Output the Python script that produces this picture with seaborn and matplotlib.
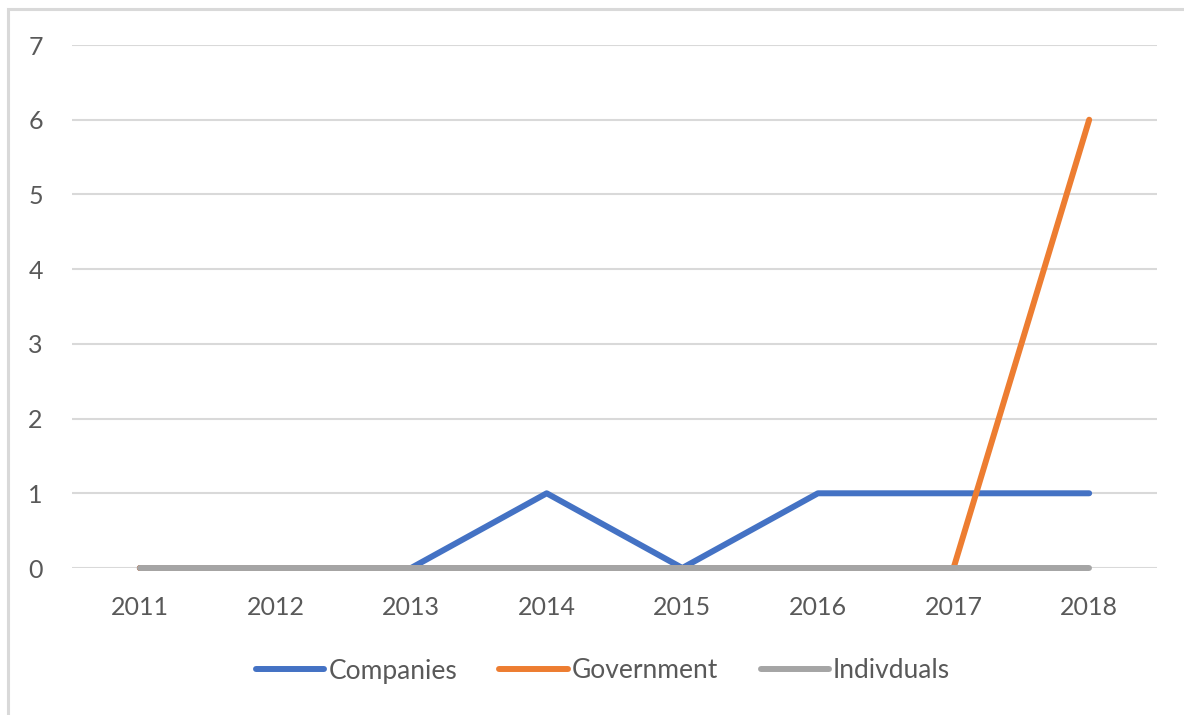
import matplotlib
matplotlib.use("Agg")
import matplotlib.pyplot as plt
import seaborn as sns
import pandas as pd
from matplotlib.patches import Rectangle

years = [2011, 2012, 2013, 2014, 2015, 2016, 2017, 2018]
companies = [0, 0, 0, 1, 0, 1, 1, 1]
government = [0, 0, 0, 0, 0, 0, 0, 6]
individuals = [0, 0, 0, 0, 0, 0, 0, 0]
series_names = ["Companies", "Government", "Indivduals"]
colors = ["#4472C4", "#ED7D31", "#A5A5A5"]

df = pd.concat([
    pd.DataFrame({"Year": years, "Value": vals, "Series": name})
    for name, vals in zip(series_names, [companies, government, individuals])
], ignore_index=True)

sns.set_theme(style="white")
plt.rcParams["font.family"] = ["Lato", "DejaVu Sans"]

fig = plt.figure(figsize=(11.84, 7.15), dpi=100)
ax = fig.add_axes([72 / 1184, 1 - 568 / 715, (1157 - 72) / 1184, (568 - 45) / 715])

sns.lineplot(data=df, x="Year", y="Value", hue="Series", palette=colors,
             hue_order=series_names, linewidth=4.3, ax=ax, legend=True,
             sort=False, zorder=3)
for ln in ax.lines:
    ln.set_clip_on(False)
    ln.set_solid_capstyle("round")

ax.set_xlim(2010.5, 2018.5)
ax.set_ylim(0, 7)
ax.set_xticks(years)
ax.set_yticks(range(0, 8))
ax.set_xlabel("")
ax.set_ylabel("")
ax.grid(axis="y", color="#D9D9D9", linewidth=1.5)
ax.grid(axis="x", visible=False)
ax.set_axisbelow(True)
for s in ax.spines.values():
    s.set_visible(False)
ax.tick_params(axis="both", length=0, labelsize=18, labelcolor="#595959")
ax.tick_params(axis="x", pad=20)
ax.tick_params(axis="y", pad=21)

handles, labels = ax.get_legend_handles_labels()
ax.get_legend().remove()
for h in handles:
    h.set_linewidth(4.3)
    h.set_solid_capstyle("round")
fig.legend(handles, labels, loc="center", bbox_to_anchor=(603 / 1184, 1 - 671 / 715),
           ncol=3, frameon=False, fontsize=19, labelcolor="#595959",
           handlelength=2.6, handletextpad=0.15, columnspacing=1.6)

fig.patches.append(Rectangle((8 / 1184, -0.05), 1.2, 1 - 9 / 715 + 0.05,
                             transform=fig.transFigure, fill=False,
                             edgecolor="#D9D9D9", linewidth=2.2))

fig.savefig("out.png", dpi=100)
